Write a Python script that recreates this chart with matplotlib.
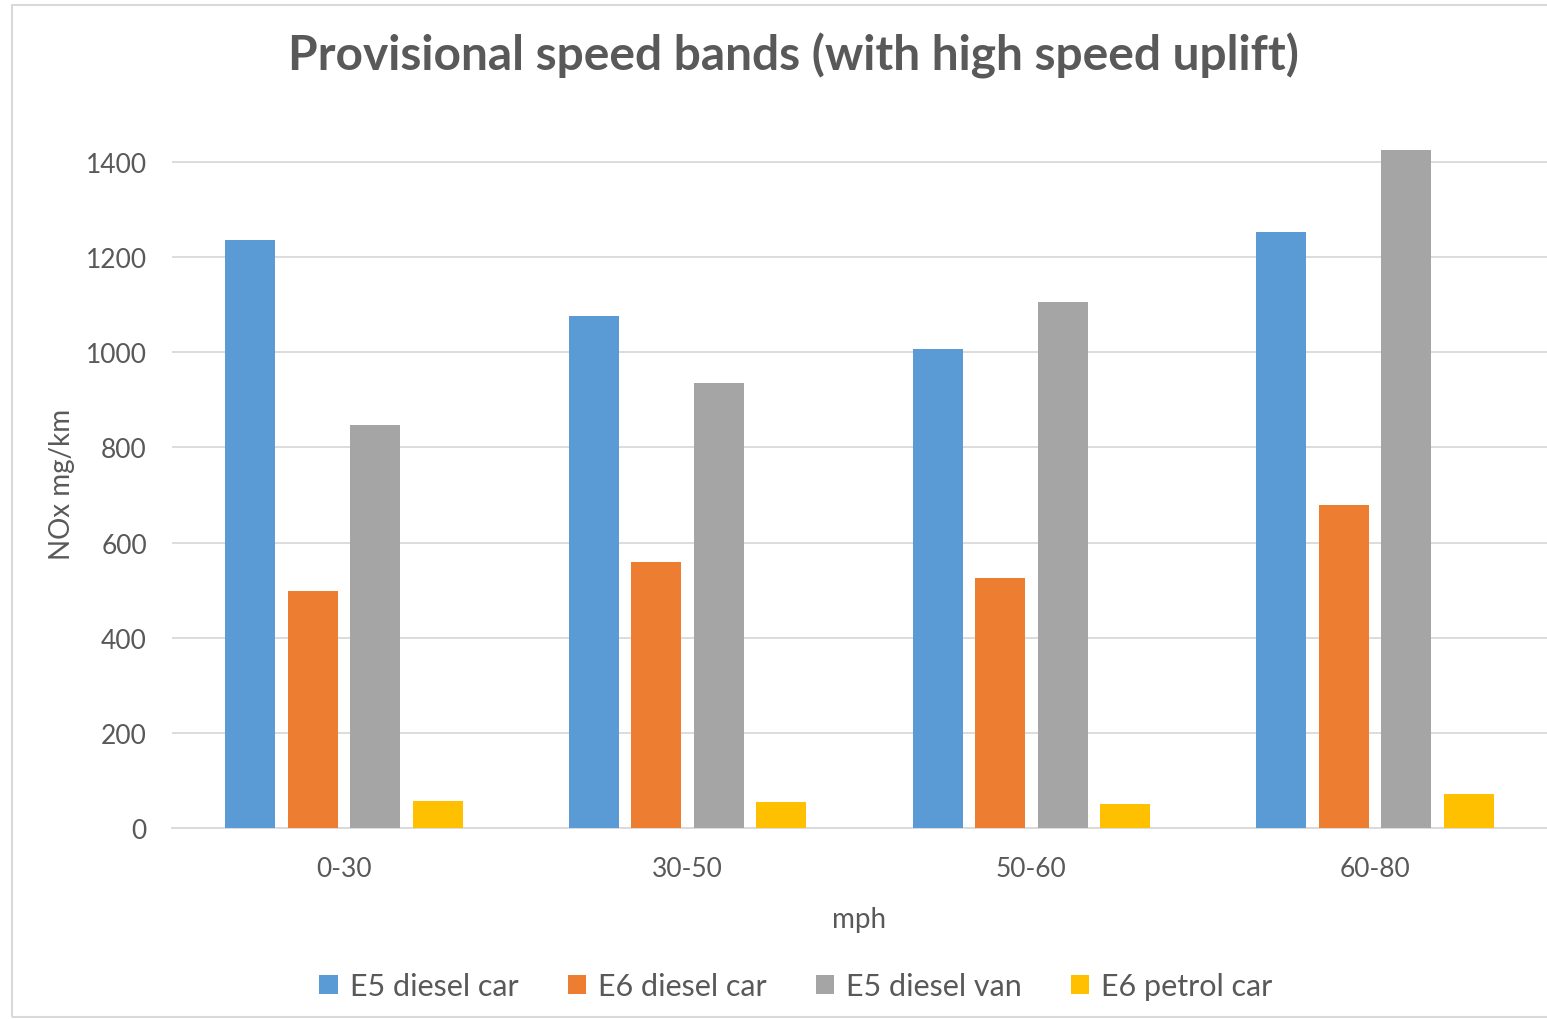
import numpy as np
import matplotlib.pyplot as plt
from matplotlib.patches import Rectangle

categories = ["0-30", "30-50", "50-60", "60-80"]
series_names = ["E5 diesel car", "E6 diesel car", "E5 diesel van", "E6 petrol car"]
e5_diesel_car = [1236, 1076, 1007, 1253]
e6_diesel_car = [498, 559, 526, 679]
e5_diesel_van = [847, 935, 1106, 1425]
e6_petrol_car = [57, 55, 50, 71]
y_ticks = [0, 200, 400, 600, 800, 1000, 1200, 1400]

colors = ["#5B9BD5", "#ED7D31", "#A5A5A5", "#FFC000"]
text_color = "#595959"
plt.rcParams["font.family"] = ["Lato", "DejaVu Sans"]

fig = plt.figure(figsize=(15.47, 10.20), dpi=100)
ax = fig.add_axes([172 / 1547, 1 - 829 / 1020, (1547 - 172) / 1547, (829 - 140) / 1020])

x = np.arange(len(categories))
bar_w = 0.1455
step = 0.1818
all_series = [e5_diesel_car, e6_diesel_car, e5_diesel_van, e6_petrol_car]
for i, (name, vals, c) in enumerate(zip(series_names, all_series, colors)):
    offs = (i - 1.5) * step
    ax.bar(x + offs, vals, width=bar_w, color=c, label=name, zorder=3)

ax.set_xlim(-0.5, len(categories) - 0.5)
ymax = 1400 * (829 - 140) / (829 - 163)
ax.set_ylim(0, ymax)
ax.set_yticks(y_ticks)
ax.set_xticks(x)
ax.set_xticklabels(categories)
ax.grid(axis="y", color="#D9D9D9", linewidth=1.3, zorder=0)
for s in ["top", "right", "left"]:
    ax.spines[s].set_visible(False)
ax.spines["bottom"].set_color("#D9D9D9")
ax.spines["bottom"].set_linewidth(1.3)
ax.tick_params(axis="both", length=0, labelsize=19, colors=text_color)
ax.tick_params(axis="y", pad=18)
ax.tick_params(axis="x", pad=20)

ax.set_xlabel("mph", fontsize=20, color=text_color, labelpad=18)
ax.set_ylabel("NOx mg/km", fontsize=20, color=text_color, labelpad=8)

fig.text(793 / 1547, 1 - 56 / 1020, "Provisional speed bands (with high speed uplift)",
         ha="center", va="center", fontsize=34.5, fontweight="bold", color=text_color)

leg = fig.legend(loc="center", bbox_to_anchor=(796 / 1547, 1 - 987 / 1020), ncol=4,
                 frameon=False, fontsize=22, handlelength=0.6, handleheight=0.6,
                 handletextpad=0.4, columnspacing=1.6)
for t in leg.get_texts():
    t.set_color(text_color)

# chart frame
fig.patches.append(Rectangle((12 / 1547, 1 - 1018 / 1020), 1.1, (1018 - 6) / 1020,
                             transform=fig.transFigure, fill=False,
                             edgecolor="#D9D9D9", linewidth=1.5))

fig.savefig("out.png", dpi=100)
